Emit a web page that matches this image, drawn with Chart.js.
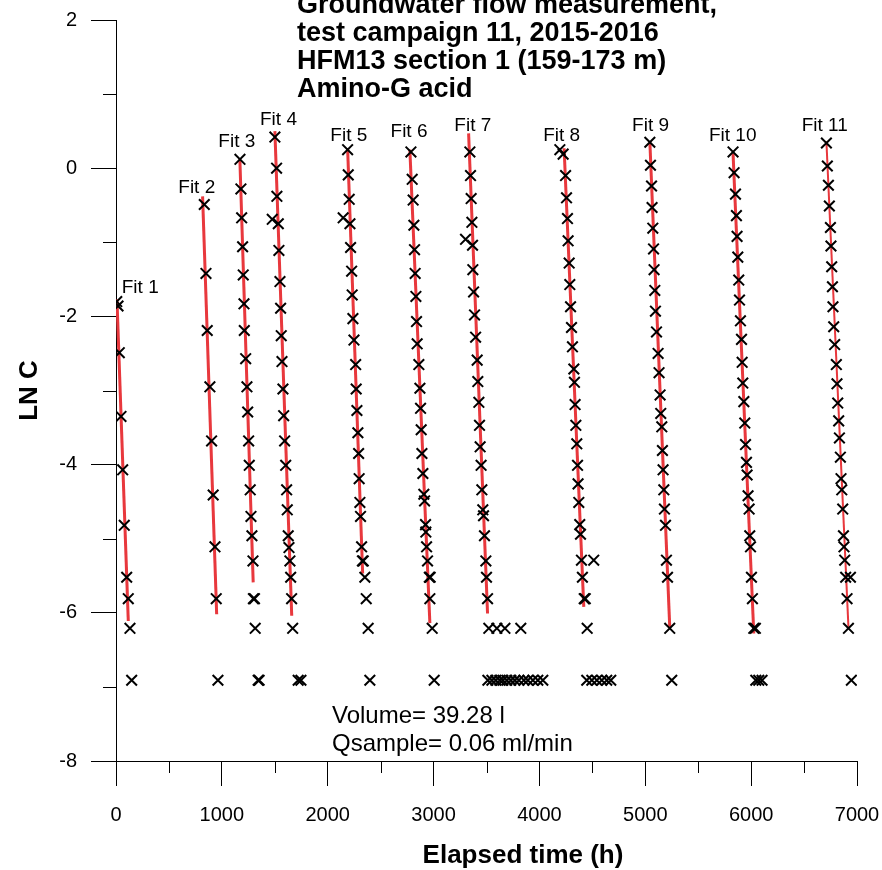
<!DOCTYPE html>
<html>
<head>
<meta charset="utf-8">
<title>HFM13 section 1 - Amino-G acid</title>
<script src="https://cdn.jsdelivr.net/npm/chart.js@4.4.1/dist/chart.umd.min.js"></script>
<style>
  body { margin: 0; background: #fff; }
</style>
</head>
<body>
<canvas id="chart" width="882" height="870"></canvas>
<script>
// measured samples, x = elapsed time (h), y = LN C
const fit1X = [7, 19, 31, 47, 63, 78, 101, 116, 132, 148];
const fit1Y = [-1.80, -1.86, -2.49, -3.35, -4.07, -4.82, -5.52, -5.81, -6.21, -6.91];

const fit2X = [834, 850, 862, 887, 903, 918, 935, 947, 963];
const fit2Y = [-0.49, -1.42, -2.19, -2.95, -3.68, -4.41, -5.11, -5.81, -6.91];

const fit3X = [1171, 1180, 1187, 1196, 1202, 1209, 1212, 1225, 1237, 1244, 1253, 1259, 1268, 1275, 1284, 1294, 1298, 1308, 1315, 1343, 1352];
const fit3Y = [0.12, -0.28, -0.67, -1.06, -1.44, -1.83, -2.19, -2.57, -2.95, -3.29, -3.68, -4.01, -4.34, -4.70, -4.96, -5.30, -5.81, -5.81, -6.21, -6.91, -6.91];

const fit4X = [1501, 1517, 1520, 1476, 1533, 1539, 1549, 1555, 1561, 1568, 1577, 1584, 1593, 1603, 1612, 1618, 1627, 1634, 1643, 1650, 1659, 1669, 1721, 1747];
const fit4Y = [0.42, 0.00, -0.38, -0.69, -0.75, -1.11, -1.53, -1.89, -2.26, -2.61, -2.98, -3.34, -3.68, -4.01, -4.34, -4.61, -4.96, -5.12, -5.30, -5.52, -5.81, -6.21, -6.91, -6.91];

const fit5X = [2188, 2194, 2203, 2146, 2210, 2216, 2226, 2231, 2238, 2248, 2264, 2269, 2276, 2285, 2292, 2297, 2304, 2310, 2320, 2328, 2336, 2351, 2364, 2382, 2398];
const fit5Y = [0.25, -0.09, -0.42, -0.67, -0.75, -1.07, -1.39, -1.71, -2.03, -2.32, -2.65, -2.98, -3.27, -3.57, -3.85, -4.19, -4.51, -4.70, -5.11, -5.30, -5.30, -5.52, -5.81, -6.21, -6.91];

const fit6X = [2786, 2798, 2807, 2814, 2820, 2826, 2833, 2839, 2845, 2861, 2871, 2877, 2883, 2890, 2899, 2908, 2915, 2924, 2927, 2934, 2943, 2960, 2968, 2965, 2987, 3006];
const fit6Y = [0.22, -0.15, -0.43, -0.77, -1.10, -1.42, -1.73, -2.07, -2.37, -2.65, -2.97, -3.24, -3.53, -3.85, -4.12, -4.40, -4.49, -4.81, -4.91, -5.11, -5.30, -5.52, -5.52, -5.81, -6.21, -6.91];

const fit7X = [3343, 3349, 3355, 3362, 3302, 3368, 3371, 3378, 3387, 3397, 3412, 3418, 3428, 3434, 3440, 3449, 3456, 3465, 3472, 3481, 3494, 3500, 3510];
const fit7Y = [0.22, -0.10, -0.41, -0.73, -0.96, -1.04, -1.37, -1.67, -1.98, -2.28, -2.59, -2.88, -3.16, -3.47, -3.76, -4.01, -4.34, -4.61, -4.69, -4.96, -5.30, -5.52, -5.81];

const fit8X = [4193, 4224, 4247, 4256, 4265, 4271, 4281, 4287, 4294, 4303, 4312, 4325, 4331, 4337, 4344, 4353, 4360, 4365, 4372, 4381, 4388, 4397, 4513, 4406, 4423, 4433, 4451];
const fit8Y = [0.25, 0.19, -0.10, -0.40, -0.68, -0.98, -1.28, -1.57, -1.87, -2.15, -2.41, -2.71, -2.89, -3.19, -3.47, -3.72, -4.01, -4.26, -4.51, -4.81, -4.94, -5.29, -5.29, -5.52, -5.81, -5.81, -6.21];

const fit9X = [5043, 5049, 5059, 5064, 5071, 5078, 5083, 5090, 5096, 5106, 5121, 5130, 5140, 5146, 5156, 5162, 5168, 5175, 5181, 5191, 5200, 5210, 5231, 5250];
const fit9Y = [0.35, 0.04, -0.24, -0.53, -0.81, -1.09, -1.37, -1.65, -1.93, -2.21, -2.50, -2.76, -3.06, -3.31, -3.49, -3.81, -4.07, -4.34, -4.60, -4.82, -5.29, -5.52, -6.21, -6.91];

const fit10X = [5829, 5839, 5852, 5861, 5867, 5874, 5883, 5890, 5899, 5909, 5915, 5921, 5931, 5940, 5947, 5956, 5962, 5971, 5981, 5987, 5994, 6003, 6012, 6025, 6040, 6044, 6072, 6103];
const fit10Y = [0.22, -0.06, -0.35, -0.64, -0.92, -1.20, -1.51, -1.78, -2.06, -2.31, -2.62, -2.90, -3.15, -3.44, -3.73, -3.97, -4.14, -4.42, -4.60, -4.96, -5.11, -5.52, -5.81, -6.21, -6.21, -6.91, -6.91, -6.91];

const fit11X = [6711, 6720, 6730, 6739, 6749, 6754, 6761, 6768, 6773, 6780, 6789, 6805, 6811, 6818, 6827, 6834, 6843, 6849, 6856, 6865, 6872, 6877, 6884, 6893, 6938, 6906, 6919, 6947];
const fit11Y = [0.34, 0.03, -0.23, -0.51, -0.80, -1.05, -1.33, -1.60, -1.87, -2.14, -2.38, -2.65, -2.91, -3.17, -3.41, -3.64, -3.90, -4.19, -4.34, -4.60, -4.96, -5.11, -5.29, -5.52, -5.52, -5.81, -6.21, -6.91];

// samples at the detection limit between the test runs
const lowX = [3522, 3598, 3674, 3824, 3513, 3551, 3588, 3626, 3655, 3692, 3730, 3768, 3806, 3853, 3891, 3938, 3985, 4032, 4447, 4495, 4542, 4589, 4636, 4674];
const lowY = [-6.21, -6.21, -6.21, -6.21, -6.91, -6.91, -6.91, -6.91, -6.91, -6.91, -6.91, -6.91, -6.91, -6.91, -6.91, -6.91, -6.91, -6.91, -6.91, -6.91, -6.91, -6.91, -6.91, -6.91];

// fitted lines (start / end)
const fitNames = ['Fit 1', 'Fit 2', 'Fit 3', 'Fit 4', 'Fit 5', 'Fit 6', 'Fit 7', 'Fit 8', 'Fit 9', 'Fit 10', 'Fit 11'];
const lineX0 = [9, 818, 1170, 1501, 2188, 2776, 3331, 4233, 5043, 5829, 6711];
const lineY0 = [-1.77, -0.38, 0.12, 0.50, 0.27, 0.25, 0.47, 0.27, 0.36, 0.20, 0.36];
const lineX1 = [116, 951, 1296, 1660, 2330, 2965, 3510, 4419, 5231, 6025, 6919];
const lineY1 = [-6.11, -6.02, -5.59, -6.04, -5.47, -6.14, -6.01, -5.92, -6.19, -6.28, -6.19];

// where the "Fit n" labels sit
const labelX = [229, 763, 1141, 1535, 2199, 2768, 3371, 4210, 5050, 5826, 6695];
const labelY = [-1.61, -0.27, 0.35, 0.65, 0.44, 0.49, 0.57, 0.44, 0.57, 0.44, 0.57];

// axis ticks
const xMinor = [500, 1500, 2500, 3500, 4500, 5500, 6500];
const yMinor = [1, -1, -3, -5, -7];

const titleLines = ['Groundwater flow measurement,', 'test campaign 11, 2015-2016', 'HFM13 section 1 (159-173 m)', 'Amino-G acid'];
const noteLines = ['Volume= 39.28 l', 'Qsample= 0.06 ml/min'];
const xTitle = 'Elapsed time (h)';

const FONT = '"Liberation Sans", Arial, Helvetica, sans-serif';
Chart.defaults.font.family = FONT;
Chart.defaults.color = '#000';

const allX = [fit1X, fit2X, fit3X, fit4X, fit5X, fit6X, fit7X, fit8X, fit9X, fit10X, fit11X, lowX];
const allY = [fit1Y, fit2Y, fit3Y, fit4Y, fit5Y, fit6Y, fit7Y, fit8Y, fit9Y, fit10Y, fit11Y, lowY];
const samples = [];
allX.forEach((xs, i) => xs.forEach((v, j) => samples.push({ x: v, y: allY[i][j] })));

const lineSets = fitNames.map((name, i) => ({
  label: name,
  data: [{ x: lineX0[i], y: lineY0[i] }, { x: lineX1[i], y: lineY1[i] }],
  showLine: true,
  borderColor: '#e8383d',
  borderWidth: i === 10 ? 2 : 3,
  pointRadius: 0,
  order: 1
}));

// extra drawing: minor ticks, titles, fit labels and notes
const decorations = {
  id: 'decorations',
  afterDraw(chart) {
    const { ctx, scales: { x, y } } = chart;
    ctx.save();
    ctx.strokeStyle = '#000';
    ctx.lineWidth = 1;
    ctx.beginPath();
    xMinor.forEach(v => {
      const px = Math.round(x.getPixelForValue(v)) + 0.5;
      ctx.moveTo(px, y.bottom);
      ctx.lineTo(px, y.bottom + 12);
    });
    yMinor.forEach(v => {
      const py = Math.round(y.getPixelForValue(v)) + 0.5;
      ctx.moveTo(x.left - 13, py);
      ctx.lineTo(x.left, py);
    });
    ctx.stroke();

    ctx.fillStyle = '#000';
    ctx.textAlign = 'center';
    ctx.textBaseline = 'middle';
    ctx.font = '19px ' + FONT;
    fitNames.forEach((name, i) => {
      ctx.fillText(name, x.getPixelForValue(labelX[i]), y.getPixelForValue(labelY[i]));
    });

    // x axis title sits a bit right of the plot centre in the original
    ctx.textBaseline = 'alphabetic';
    ctx.font = 'bold 26px ' + FONT;
    ctx.fillText(xTitle, 523, 863);

    ctx.textAlign = 'left';
    ctx.font = 'bold 27px ' + FONT;
    titleLines.forEach((t, i) => ctx.fillText(t, 297, 13 + i * 28));

    ctx.font = '24px ' + FONT;
    noteLines.forEach((t, i) => ctx.fillText(t, 332, 723 + i * 28));
    ctx.restore();
  }
};

new Chart(document.getElementById('chart'), {
  type: 'scatter',
  data: {
    datasets: [{
      label: 'LN C',
      data: samples,
      pointStyle: 'crossRot',
      pointRadius: 7.5,
      pointBorderWidth: 2,
      borderColor: '#000',
      backgroundColor: '#000',
      order: 0
    }].concat(lineSets)
  },
  options: {
    responsive: false,
    animation: false,
    layout: { padding: { top: 20, right: 25, left: 0, bottom: 0 } },
    plugins: { legend: { display: false }, tooltip: { enabled: false } },
    scales: {
      x: {
        type: 'linear',
        min: 0,
        max: 7000,
        ticks: { stepSize: 1000, padding: 17, maxRotation: 0, font: { size: 20 }, color: '#000', callback: v => String(v) },
        grid: { drawOnChartArea: false, tickLength: 25, tickColor: '#000', color: '#000' },
        border: { display: true, color: '#000', width: 1 },
        title: { display: false },
        afterFit(scale) {
          scale.height = 109;
          scale.paddingLeft = 0;
          scale.paddingRight = 0;
        }
      },
      y: {
        type: 'linear',
        min: -8,
        max: 2,
        ticks: { stepSize: 2, padding: 14, font: { size: 20 }, color: '#000', callback: v => String(v) },
        grid: { drawOnChartArea: false, tickLength: 25, tickColor: '#000', color: '#000' },
        border: { display: true, color: '#000', width: 1 },
        title: { display: true, text: 'LN C', font: { size: 26, weight: 'bold' }, color: '#000', padding: { top: 14, bottom: 0 } },
        afterFit(scale) {
          scale.width = 116;
          scale.paddingTop = 0;
          scale.paddingBottom = 0;
        }
      }
    }
  },
  plugins: [decorations]
});
</script>
</body>
</html>
